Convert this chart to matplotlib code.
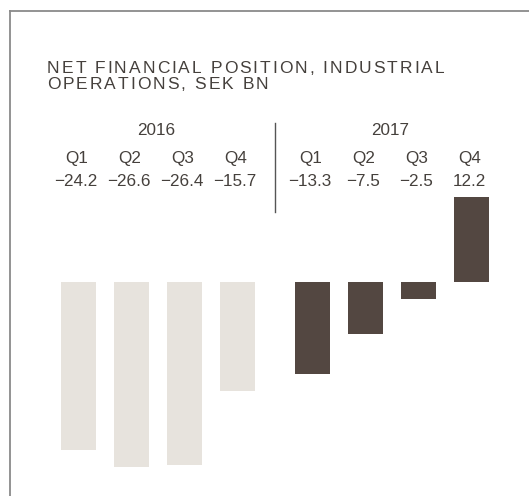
import matplotlib
matplotlib.use("Agg")
import matplotlib.pyplot as plt
from matplotlib.lines import Line2D
from matplotlib.font_manager import FontProperties, findfont, get_font

years = ["2016", "2017"]
quarters = ["Q1", "Q2", "Q3", "Q4", "Q1", "Q2", "Q3", "Q4"]
values = [-24.2, -26.6, -26.4, -15.7, -13.3, -7.5, -2.5, 12.2]
value_labels = ["\u221224.2", "\u221226.6", "\u221226.4", "\u221215.7",
                "\u221213.3", "\u22127.5", "\u22122.5", "12.2"]
title_lines = ["NET FINANCIAL POSITION, INDUSTRIAL", "OPERATIONS, SEK BN"]

W, H, DPI = 529, 496, 100
LIGHT = "#e7e3dd"
DARK = "#534741"
TEXT = "#45403c"
FAMILY = "Liberation Sans"

plt.rcParams["font.family"] = [FAMILY, "DejaVu Sans"]

fig = plt.figure(figsize=(W / DPI, H / DPI), dpi=DPI)
ax = fig.add_axes([0, 0, 1, 1])
ax.set_axis_off()

# x: one unit per quarter, with an extra gap between the two years
x0_px, step_px = 78.7, 53.0
year_gap = 1.415
positions = [i if i < 4 else i + year_gap - 1 for i in range(8)]
ax.set_xlim(-x0_px / step_px, (W - x0_px) / step_px)
zero_px, unit_px = 282.0, 6.95
ax.set_ylim(-(H - zero_px) / unit_px, zero_px / unit_px)

colors = [LIGHT] * 4 + [DARK] * 4
ax.bar(positions, values, width=35 / step_px, color=colors, linewidth=0)


def fy(px):
    return 1 - px / H


def fx(px):
    return px / W


def tracked_text(x_px, y_px, s, size, tracking_px, **kw):
    """Draw text character by character with extra letter spacing."""
    font = get_font(findfont(FontProperties(family=FAMILY)))
    font.set_size(size, DPI)
    x = x_px
    for ch in s:
        fig.text(fx(x), fy(y_px), ch, fontsize=size, va="baseline", ha="left", **kw)
        font.load_char(ord(ch))
        adv = font.load_char(ord(ch)).linearHoriAdvance / 65536
        x += adv + tracking_px


# frame lines (top and left)
fig.add_artist(Line2D([fx(9.5), 1], [fy(11), fy(11)], color="#8a8a8a", lw=1.3))
fig.add_artist(Line2D([fx(9.5), fx(9.5)], [fy(11), 0], color="#8a8a8a", lw=1.3))

# title
for i, line in enumerate(title_lines):
    tracked_text(47, 72.7 + 16.6 * i, line, 12.5, 2.0, color=TEXT)

# year divider
fig.add_artist(Line2D([fx(275), fx(275)], [fy(123), fy(212)], color="#555555", lw=1.0))

xt = ax.get_xaxis_transform()
shift = -2.5 / step_px
yr_centers = [(positions[0] + positions[3]) / 2, (positions[4] + positions[7]) / 2]
for xc, yr in zip(yr_centers, years):
    ax.text(xc + shift, fy(135), yr, transform=xt, ha="center", va="baseline",
            fontsize=12.3, color=TEXT)
for xp, q, v in zip(positions, quarters, value_labels):
    ax.text(xp + shift, fy(163.3), q, transform=xt, ha="center", va="baseline",
            fontsize=12.3, color=TEXT)
    ax.text(xp + shift, fy(186), v, transform=xt, ha="center", va="baseline",
            fontsize=12.3, color=TEXT)

fig.savefig("out.png", dpi=DPI)
